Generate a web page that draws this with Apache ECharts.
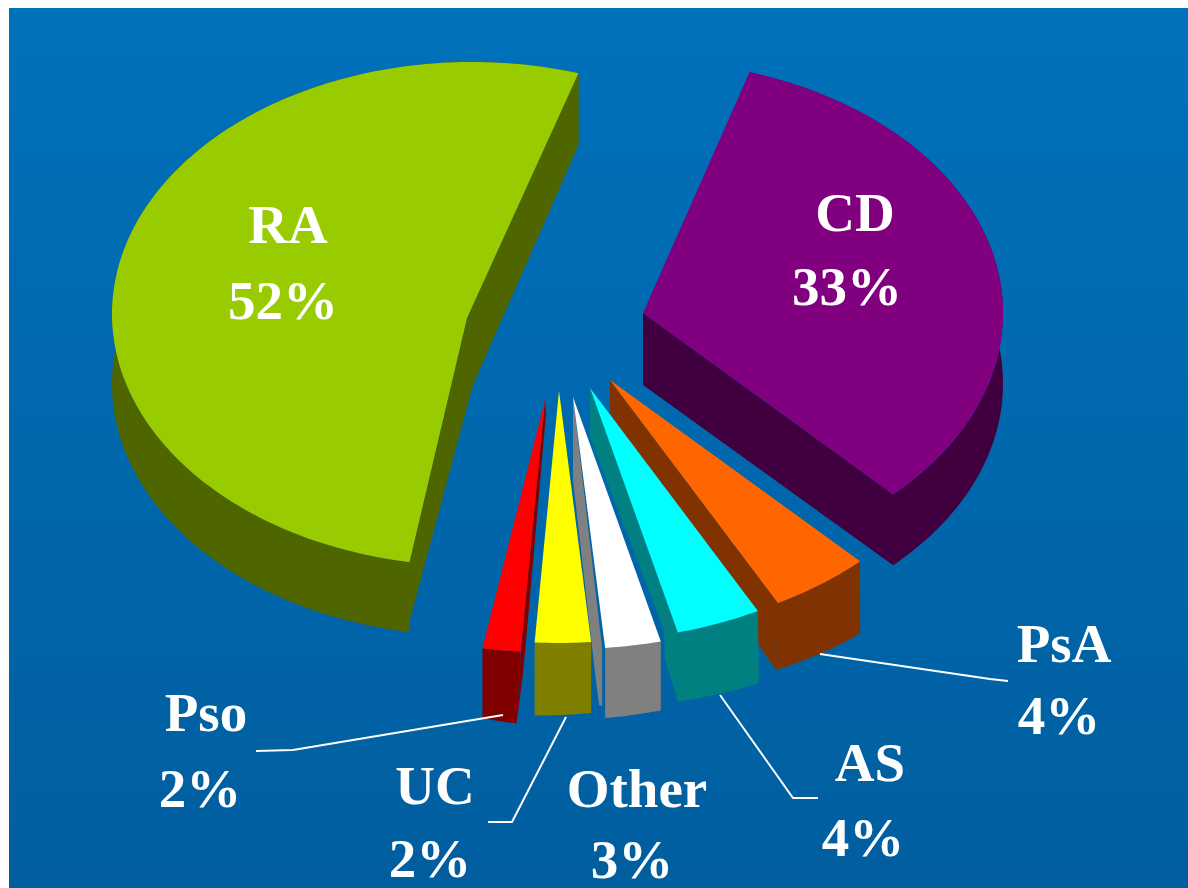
<!DOCTYPE html>
<html>
<head>
<meta charset="utf-8">
<style>html,body{margin:0;padding:0;background:#fff}#chart{width:1188px;height:888px}</style>
<script src="https://cdn.jsdelivr.net/npm/echarts@6/dist/echarts.min.js"></script>
</head>
<body>
<div id="chart"></div>
<script>
// ---- data ----
var categories = ['RA', 'CD', 'PsA', 'AS', 'Other', 'UC', 'Pso'];
var values = [52, 33, 4.5, 3.8, 2.5, 2.5, 1.7];
var percentLabels = ['52%', '33%', '4%', '4%', '3%', '2%', '2%'];
var topColors = ['#99CC00', '#800080', '#FF6600', '#00FFFF', '#FFFFFF', '#FFFF00', '#FF0000'];
var wallColors = ['#4F6600', '#400040', '#803300', '#008080', '#808080', '#808000', '#800000'];

// ---- layout of the exploded, tilted pie (pixels) ----
var START_DEG = 190, RX = 360, RY = 252, FONT = '"Liberation Serif", "Times New Roman", serif';
var FONT_SIZE = 55, BASELINE_DROP = 45;
var rimCentres = [[472, 314], [643, 313], [610, 380], [590, 388], [573, 397], [559, 391], [545, 400]];
var apexes = [[467, 318], [643, 313], [610, 380], [590, 388], [573, 397], [559, 391], [545, 400]];
// depth/lean of the outer wall at the slice's start and end corner
var wallDepth = [[70, 70], [70, 71], [72, 67], [72, 69], [69, 70], [71, 73], [72, 70]];
var wallLean = [[0, 0], [0, 0], [0, -2], [1, 0], [0, 0], [0, 0], [-4, 0]];
// visible radial wall outlines: anchor (a apex, s start corner, e end corner) and offset
var radialWalls = [
  [['e', 0, 0], ['e', 0, 72], ['a', 6, 67], ['s', -3, 70], ['s', 0, 0], ['a', 0, 0]],
  [['a', 0, 0], ['a', 0, 72], ['e', 0, 71], ['e', 0, 0]],
  [['a', 0, 0], ['a', 0, 33], ['e', -18, 44], ['e', -2, 67], ['e', 0, 0]],
  [['a', 0, 0], ['a', 0, 49], ['e', -14, -3], ['e', -13, 27], ['e', -7, 45], ['e', 0, 69], ['e', 0, 0]],
  [['a', 0, 0], ['a', 0, 83], ['e', -9, 34], ['e', -6, 57], ['e', -3, 58], ['e', -3, 0]],
  [],
  [['a', 0, 0], ['a', 1, 14], ['s', 5, -6], ['s', 2, 24], ['s', -4, 72], ['s', 0, 0]]
];
var namePos = [[288, 246], [855, 234], [1064, 665], [870, 784], [637, 810], [435, 807], [206, 734]];
var pctPos = [[283, 322], [847, 308], [1059, 737], [863, 859], [632, 881], [430, 880], [200, 810]];
var leaders = [
  [[820, 654], [990, 679], [1008, 681]],
  [[720, 695], [793, 798], [818, 798]],
  [[566, 717], [512, 822], [488, 822]],
  [[503, 715], [293, 750], [256, 751]]
];

function sectorAngles(idx) {
  var total = values.reduce(function (s, v) { return s + v; }, 0), acc = 0;
  for (var i = 0; i < idx; i++) acc += values[i];
  return [START_DEG + acc / total * 360, START_DEG + (acc + values[idx]) / total * 360];
}
function rimPoint(centre, deg) {
  var r = deg * Math.PI / 180;
  return [centre[0] + RX * Math.sin(r), centre[1] - RY * Math.cos(r)];
}
function textEl(str, pos) {
  return {
    type: 'text', z2: 20,
    style: { text: str, x: pos[0], y: pos[1] - BASELINE_DROP, align: 'center', verticalAlign: 'top',
      fill: '#FFFFFF', font: 'bold ' + FONT_SIZE + 'px ' + FONT }
  };
}

function renderSlice(params, api) {
  var i = params.dataIndex, ang = sectorAngles(i), apex = apexes[i];
  var rim = [], bottom = [], n = Math.max(4, Math.ceil(ang[1] - ang[0]));
  for (var k = 0; k <= n; k++) {
    var f = k / n, p = rimPoint(rimCentres[i], ang[0] + (ang[1] - ang[0]) * f);
    rim.push(p);
    bottom.push([p[0] + wallLean[i][0] + (wallLean[i][1] - wallLean[i][0]) * f,
                 p[1] + wallDepth[i][0] + (wallDepth[i][1] - wallDepth[i][0]) * f]);
  }
  var anchors = { a: apex, s: rim[0], e: rim[n] };
  var children = [];
  children.push({ type: 'polygon', shape: { points: rim.concat(bottom.slice().reverse()) },
    style: { fill: wallColors[i] } });
  if (radialWalls[i].length) {
    children.push({ type: 'polygon', shape: { points: radialWalls[i].map(function (w) {
      return [anchors[w[0]][0] + w[1], anchors[w[0]][1] + w[2]];
    }) }, style: { fill: wallColors[i] } });
  }
  children.push({ type: 'polygon', shape: { points: [apex].concat(rim) },
    style: { fill: topColors[i] } });
  children.push(textEl(categories[i], namePos[i]));
  children.push(textEl(percentLabels[i], pctPos[i]));
  return { type: 'group', children: children };
}

var chart = echarts.init(document.getElementById('chart'), null, { renderer: 'canvas' });
chart.setOption({
  animation: false,
  backgroundColor: '#FFFFFF',
  graphic: [
    { type: 'rect', z: -10, silent: true, shape: { x: 9, y: 8, width: 1179, height: 880 },
      style: { fill: { type: 'linear', x: 0, y: 0, x2: 0, y2: 1,
        colorStops: [{ offset: 0, color: '#0071BB' }, { offset: 1, color: '#005E9F' }] } } }
  ].concat(leaders.map(function (pts) {
    return { type: 'polyline', z: 5, silent: true, shape: { points: pts },
      style: { stroke: '#FFFFFF', lineWidth: 2, fill: null } };
  })),
  series: [{
    type: 'custom',
    coordinateSystem: 'none',
    silent: true,
    data: categories.map(function (c, i) { return { name: c, value: values[i] }; }),
    renderItem: renderSlice
  }]
});
</script>
</body>
</html>
